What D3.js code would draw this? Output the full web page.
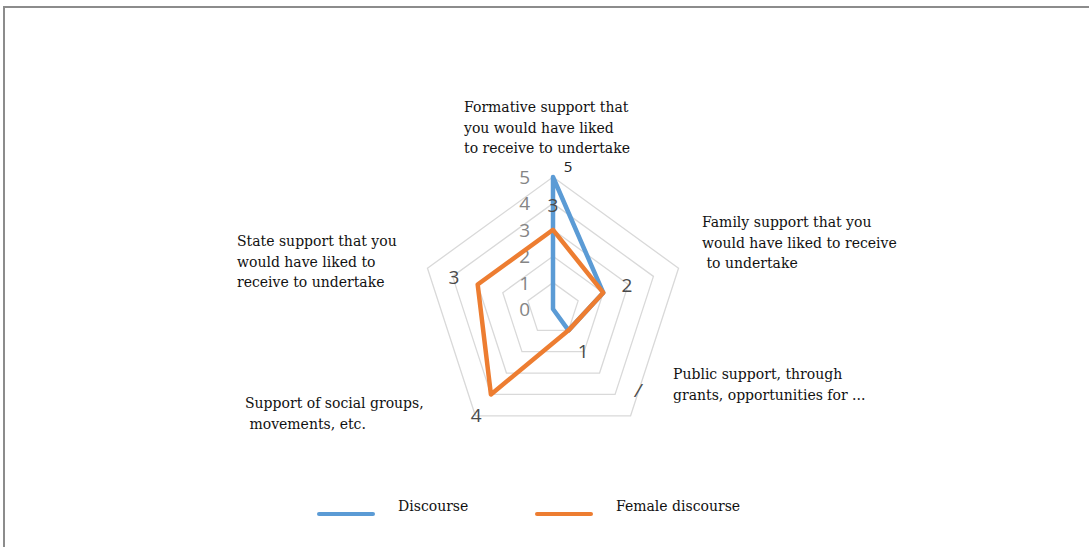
<!DOCTYPE html>
<html lang="en">
<head>
<meta charset="utf-8">
<title>Support radar</title>
<script src="https://d3js.org/d3.v7.js"></script>
<style>
  body { margin: 0; background: #fff; }
  .cat { font-family: "DejaVu Serif", serif; font-size: 14px; fill: #111; }
  .tick { font-family: "Open Sans", sans-serif; font-size: 19px; fill: #858585; }
  .dlab { font-family: "Open Sans", sans-serif; font-size: 19px; fill: #4a4a4a; }
  .leg { font-family: "DejaVu Serif", serif; font-size: 14px; fill: #111; }
</style>
</head>
<body>
<script>
// categories, each split in its displayed lines
const categories = [
  ["Formative support that", "you would have liked", "to receive to undertake"],
  ["Family support that you", "would have liked to receive", " to undertake"],
  ["Public support, through", "grants, opportunities for ..."],
  ["Support of social groups,", " movements, etc."],
  ["State support that you", "would have liked to", "receive to undertake"]
];
const discourse = [5, 2, 1, 0, 0];
const femaleDiscourse = [3, 2, 1, 4, 3];
const tickValues = [0, 1, 2, 3, 4, 5];
const seriesNames = ["Discourse", "Female discourse"];
const seriesColors = ["#5b9bd5", "#ed7d31"];

const w = 1089, h = 547;
const cx = 553, cy = 309, R = 132;

const svg = d3.select("body").append("svg")
  .attr("width", w)
  .attr("height", h);

// frame
svg.append("rect")
  .attr("x", 4).attr("y", 7)
  .attr("width", w + 20).attr("height", h + 20)
  .attr("fill", "none")
  .attr("stroke", "#8c8c8c")
  .attr("stroke-width", 2);

const r = d3.scaleLinear().domain([0, 5]).range([0, R]);
const angle = d3.scaleLinear().domain([0, categories.length]).range([0, 2 * Math.PI]);

const pt = (i, v) => [cx + r(v) * Math.sin(angle(i)), cy - r(v) * Math.cos(angle(i))];

const g = svg.append("g");

// grid rings
tickValues.filter(t => t > 0).forEach(t => {
  g.append("polygon")
    .attr("points", categories.map((c, i) => pt(i, t).join(",")).join(" "))
    .attr("fill", "none")
    .attr("stroke", "#d9d9d9")
    .attr("stroke-width", 1.3);
});

// tick labels
g.selectAll("text.tick").data(tickValues).enter().append("text")
  .attr("class", "tick")
  .attr("x", cx - 23)
  .attr("y", d => cy - r(d) + 7)
  .attr("text-anchor", "end")
  .text(d => d);

// series
const series = [discourse, femaleDiscourse];
const line = d3.line().curve(d3.curveLinearClosed);
series.forEach((s, k) => {
  g.append("path")
    .attr("d", line(s.map((v, i) => pt(i, v))))
    .attr("fill", "none")
    .attr("stroke", seriesColors[k])
    .attr("stroke-width", 4.5)
    .attr("stroke-linejoin", "round");
});

// data labels: female series outside each point, discourse only at its peak
femaleDiscourse.forEach((v, i) => {
  const q = pt(i, v);
  const dx = Math.sin(angle(i)) * 25, dy = -Math.cos(angle(i)) * 25;
  g.append("text").attr("class", "dlab")
    .attr("x", q[0] + dx)
    .attr("y", q[1] + dy + 7)
    .attr("text-anchor", "middle")
    .text(v);
});
const peak = d3.maxIndex(discourse);
const bp = pt(peak, discourse[peak]);
g.append("text").attr("class", "dlab")
  .attr("x", bp[0] + 15)
  .attr("y", bp[1] - 5)
  .attr("text-anchor", "middle")
  .style("font-size", "15px")
  .style("fill", "#222")
  .text(discourse[peak]);

// stray mark near public support label
g.append("text").attr("class", "dlab")
  .attr("x", 638).attr("y", 397)
  .attr("text-anchor", "middle")
  .style("font-style", "italic")
  .text("/");

// category labels
const catPos = [[464, 112], [702, 227], [673, 379], [245, 408], [237, 246]];
categories.forEach((lines, i) => {
  const t = svg.append("text").attr("class", "cat")
    .attr("x", catPos[i][0]).attr("y", catPos[i][1])
    .attr("xml:space", "preserve");
  lines.forEach((l, j) => {
    t.append("tspan")
      .attr("x", catPos[i][0])
      .attr("dy", j === 0 ? 0 : 20.5)
      .attr("xml:space", "preserve")
      .text(l);
  });
});

// legend
const legX = [319, 537];
seriesNames.forEach((n, k) => {
  svg.append("line")
    .attr("x1", legX[k]).attr("x2", legX[k] + 54)
    .attr("y1", 514).attr("y2", 514)
    .attr("stroke", seriesColors[k])
    .attr("stroke-width", 4)
    .attr("stroke-linecap", "round");
  svg.append("text").attr("class", "leg")
    .attr("x", legX[k] + 79).attr("y", 511)
    .text(n);
});
</script>
</body>
</html>
